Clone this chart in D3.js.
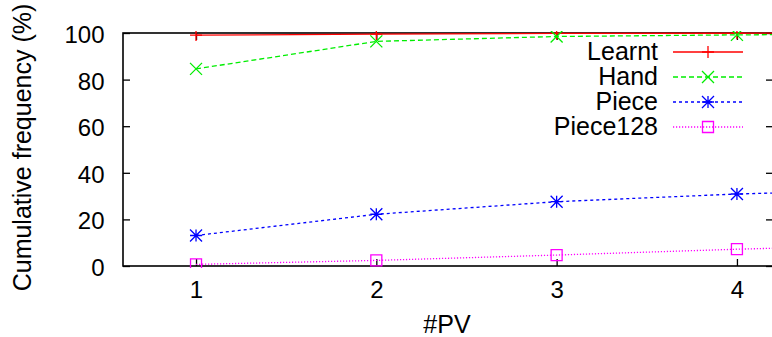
<!DOCTYPE html>
<html>
<head>
<meta charset="utf-8">
<script src="https://cdn.jsdelivr.net/npm/d3@7"></script>
<style>
  body { margin: 0; background: #fff; }
  text { font-family: "Liberation Sans", Arial, sans-serif; fill: #000; }
</style>
</head>
<body>
<div id="chart"></div>
<script>
// data
const pv = [1, 2, 3, 4, 5]
const learnt = [99.1, 99.5, 99.8, 99.9, 100]
const hand = [84.6, 96.4, 98.5, 99.2, 99.6]
const piece = [13.1, 22.2, 27.6, 30.9, 33.0]
const piece128 = [0.7, 2.4, 4.7, 7.2, 9.3]
const yTicks = [0, 20, 40, 60, 80, 100]
const xTicks = [1, 2, 3, 4]

const series = [
  { name: "Learnt", values: learnt, color: "#ff0000", dash: null, mark: "plus" },
  { name: "Hand", values: hand, color: "#00ee00", dash: "5,3", mark: "cross" },
  { name: "Piece", values: piece, color: "#0000ff", dash: "3,3", mark: "star" },
  { name: "Piece128", values: piece128, color: "#ff00ff", dash: "1.2,1.8", mark: "box" }
]

const W = 772, H = 337
const M = { TOP: 33, LEFT: 123, RIGHT: 773, BOTTOM: 266 }

const svg = d3.select("#chart").append("svg")
  .attr("width", W).attr("height", H)

const x = d3.scaleLinear().domain([0.595, 4.2]).range([M.LEFT, M.RIGHT])
const y = d3.scaleLinear().domain([0, 100]).range([M.BOTTOM, M.TOP])

svg.append("defs").append("clipPath").attr("id", "clip")
  .append("rect")
  .attr("x", M.LEFT).attr("y", M.TOP - 2)
  .attr("width", M.RIGHT - M.LEFT).attr("height", M.BOTTOM - M.TOP + 4)

// axes: ticks point inward
const axLeft = svg.append("g").attr("transform", `translate(${M.LEFT},0)`)
  .call(d3.axisLeft(y).tickValues(yTicks).tickSize(-7).tickPadding(18.5))
const axRight = svg.append("g").attr("transform", `translate(${M.RIGHT},0)`)
  .call(d3.axisRight(y).tickValues(yTicks).tickSize(-7).tickFormat(""))
const axBottom = svg.append("g").attr("transform", `translate(0,${M.BOTTOM})`)
  .call(d3.axisBottom(x).tickValues(xTicks).tickSize(-7).tickFormat(d3.format("d")))
const axTop = svg.append("g").attr("transform", `translate(0,${M.TOP})`)
  .call(d3.axisTop(x).tickValues(xTicks).tickSize(-7).tickFormat(""))

for (const g of [axLeft, axRight, axBottom, axTop]) {
  g.select(".domain").remove()
  g.selectAll(".tick line").attr("stroke", "#000").attr("stroke-width", 1.3)
  g.selectAll("text").style("font-size", "24px").attr("fill", "#000")
}
axLeft.selectAll("text").attr("dy", null).attr("y", 9.5)
axBottom.selectAll("text").attr("dy", null).attr("y", 32)

// border
svg.append("rect")
  .attr("x", M.LEFT).attr("y", M.TOP)
  .attr("width", M.RIGHT - M.LEFT).attr("height", M.BOTTOM - M.TOP)
  .attr("fill", "none").attr("stroke", "#000").attr("stroke-width", 1.6)

// axis titles
svg.append("text")
  .attr("transform", `translate(31,${(M.TOP + M.BOTTOM) / 2 - 2}) rotate(-90)`)
  .attr("text-anchor", "middle")
  .style("font-size", "25px")
  .text("Cumulative frequency (%)")

svg.append("text")
  .attr("x", 447).attr("y", 333)
  .attr("text-anchor", "middle")
  .style("font-size", "25px")
  .text("#PV")

function marker(g, kind, cx, cy, color) {
  const s = 6
  const p = d3.path()
  if (kind === "plus" || kind === "star") {
    p.moveTo(cx - s, cy); p.lineTo(cx + s, cy)
    p.moveTo(cx, cy - s); p.lineTo(cx, cy + s)
  }
  if (kind === "cross" || kind === "star") {
    p.moveTo(cx - s, cy - s); p.lineTo(cx + s, cy + s)
    p.moveTo(cx - s, cy + s); p.lineTo(cx + s, cy - s)
  }
  if (kind === "box") {
    p.rect(cx - 5.5, cy - 5.5, 11, 11)
  }
  g.append("path").attr("d", p.toString())
    .attr("fill", "none").attr("stroke", color).attr("stroke-width", 1.3)
}

const plot = svg.append("g").attr("clip-path", "url(#clip)")
const line = d3.line().x(d => x(d[0])).y(d => y(d[1]))

series.forEach(s => {
  const pts = pv.map((v, i) => [v, s.values[i]])
  plot.append("path")
    .attr("d", line(pts))
    .attr("fill", "none")
    .attr("stroke", s.color)
    .attr("stroke-width", 1.3)
    .attr("stroke-dasharray", s.dash)
  pts.forEach(p => marker(plot, s.mark, x(p[0]), y(p[1]), s.color))
})

// legend
const legend = svg.append("g")
series.forEach((s, i) => {
  const ly = 52 + i * 25
  legend.append("text")
    .attr("x", 658).attr("y", ly + 8)
    .attr("text-anchor", "end")
    .style("font-size", "25px")
    .text(s.name)
  legend.append("line")
    .attr("x1", 673).attr("x2", 743)
    .attr("y1", ly).attr("y2", ly)
    .attr("stroke", s.color).attr("stroke-width", 1.3)
    .attr("stroke-dasharray", s.dash)
  marker(legend, s.mark, 708, ly, s.color)
})
</script>
</body>
</html>
